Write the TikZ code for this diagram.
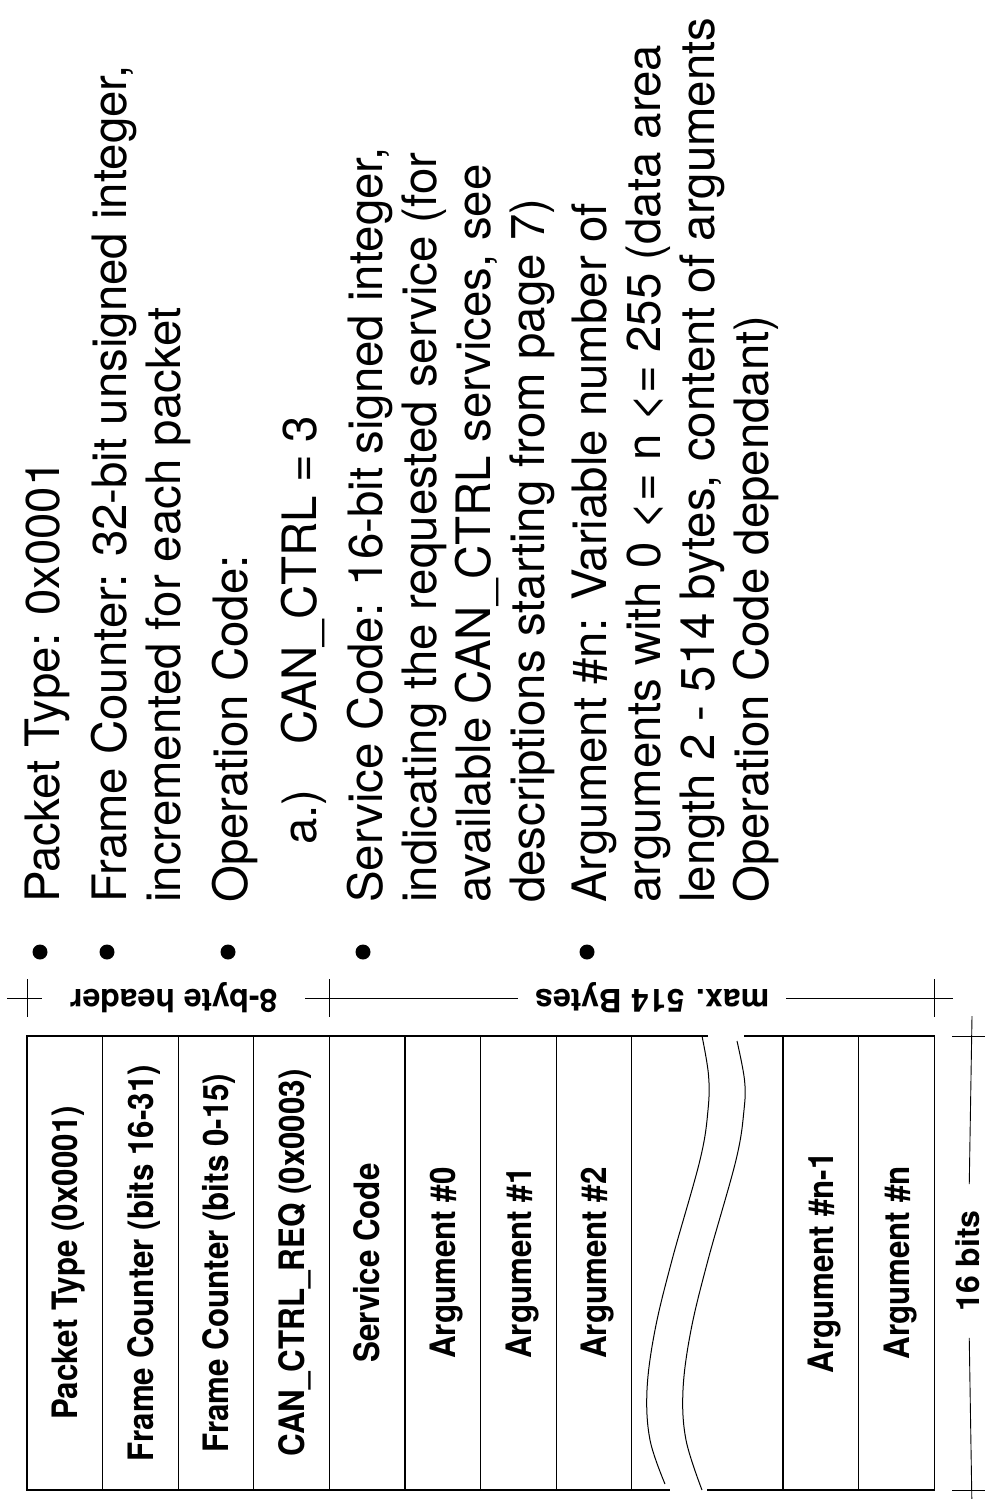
\documentclass[tikz,border=0pt]{standalone}
\usepackage{fontspec}
\setmainfont{TeX Gyre Heros}
\usepackage{graphicx}
\newcommand{\nar}[1]{\scalebox{0.895}[1]{#1}}
\begin{document}
\begin{tikzpicture}[x=1pt,y=-1pt,
  tbl/.style={line width=1.3pt},
  dimline/.style={line width=0.9pt},
  wave/.style={line width=1pt},
  txt/.style={rotate=90,anchor=base west,inner sep=0pt,font=\fontsize{47.4}{53}\selectfont},
  lab/.style={rotate=90,anchor=base,inner sep=0pt,font=\bfseries\fontsize{35}{38}\selectfont},
  dimlab/.style={inner ysep=0pt,font=\bfseries\fontsize{32}{34}\selectfont},
  bul/.style={circle,fill=black,inner sep=0pt,minimum size=15pt}]
\useasboundingbox (0,0) rectangle (985,1499);

% ---------- bullet text ----------
\node[bul] (b1) at (40,952) {};
\node[bul] (b2) at (107,952) {};
\node[bul] (b3) at (228,952) {};
\node[bul] (b4) at (363,952) {};
\node[bul] (b5) at (587,952) {};

\node[txt] (l1) at (59,903) {Packet Type: 0x0001};
\node[txt] (l2) at (126,903) {Frame Counter: 32-bit unsigned integer,};
\node[txt] (l3) at (180.5,903) {incremented for each packet};
\node[txt] (l4) at (247,903) {Operation Code:};
\node[txt] (l5a) at (316,845) {a.)};
\node[txt] (l5b) at (316,745) {CAN\_CTRL = 3};
\node[txt] (l6) at (382,903) {Service Code: 16-bit signed integer,};
\node[txt] (l7) at (436,903) {indicating the requested service (for};
\node[txt] (l8) at (490,903) {available CAN\_CTRL services, see};
\node[txt] (l9) at (544,903) {descriptions starting from page 7)};
\node[txt] (l10) at (606,903) {Argument \#n: Variable number of};
\node[txt] (l11) at (660,903) {arguments with 0 <= n <= 255 (data area};
\node[txt] (l12) at (714,903) {length 2 - 514 bytes, content of arguments};
\node[txt] (l13) at (768,903) {Operation Code dependant)};

% ---------- table ----------
\draw[tbl] (708,1036) -- (27,1036) -- (27,1490) -- (670,1490);
\draw[tbl] (744,1036) -- (934.2,1036) -- (934.2,1490) -- (707,1490);
\foreach \x in {102.6,178.2,253.8,329.4,405,480.6,556.2,631.8,783,858.6}
  \draw[tbl] (\x,1036) -- (\x,1490);

% break (wavy lines)
\draw[wave] plot[smooth,tension=0.6] coordinates {(702,1036) (708.5,1075) (708,1110) (700,1160) (672,1260) (655,1330) (647,1390) (650,1440) (665,1484)};
\draw[wave] plot[smooth,tension=0.6] coordinates {(737,1041) (744.5,1080) (744,1110) (736,1160) (708,1260) (691,1330) (683,1390) (686,1440) (702,1490)};

% field labels
\node[lab] (c1) at (77.4,1263) {\nar{Packet Type (0x0001)}};
\node[lab] (c2) at (153,1263) {\nar{Frame Counter (bits 16-31)}};
\node[lab] (c3) at (228.6,1263) {\nar{Frame Counter (bits 0-15)}};
\node[lab] (c4) at (304.2,1263) {\nar{CAN\_CTRL\_REQ (0x0003)}};
\node[lab] (c5) at (379.8,1263) {\nar{Service Code}};
\node[lab] (c6) at (455.4,1263) {\nar{Argument \#0}};
\node[lab] (c7) at (531,1263) {\nar{Argument \#1}};
\node[lab] (c8) at (606.6,1263) {\nar{Argument \#2}};
\node[lab] (c9) at (833.4,1263) {\nar{Argument \#n-1}};
\node[lab] (c10) at (909,1263) {\nar{Argument \#n}};

% ---------- dimension: header / bytes ----------
\coordinate (hL) at (7,998);
\coordinate (hR) at (953,998);
\node[dimlab,rotate=180,inner xsep=28pt] (hdr) at (173.5,998) {8-byte header};
\node[dimlab,rotate=180,inner xsep=17pt] (mx) at (652,998) {max. 514 Bytes};
\draw[dimline] (hL) -- (hdr);
\draw[dimline] (hdr) -- (mx);
\draw[dimline] (mx) -- (hR);
\coordinate (t1a) at (27,979); \coordinate (t1b) at (27,1017);
\coordinate (t2a) at (329.4,979); \coordinate (t2b) at (329.4,1017);
\coordinate (t3a) at (934.2,979); \coordinate (t3b) at (934.2,1017);
\draw[dimline] (t1a) -- (t1b);
\draw[dimline] (t2a) -- (t2b);
\draw[dimline] (t3a) -- (t3b);

% ---------- dimension: 16 bits ----------
\coordinate (vT) at (972,1016);
\coordinate (vB) at (972,1510);
\node[dimlab,rotate=90,inner xsep=26pt] (bits) at (968,1261) {16 bits};
\draw[dimline] (vT) -- (bits);
\draw[dimline] (bits) -- (vB);
\coordinate (u1a) at (952,1036); \coordinate (u1b) at (992,1036);
\coordinate (u2a) at (952,1490); \coordinate (u2b) at (992,1490);
\draw[dimline] (u1a) -- (u1b);
\draw[dimline] (u2a) -- (u2b);
\end{tikzpicture}
\end{document}
